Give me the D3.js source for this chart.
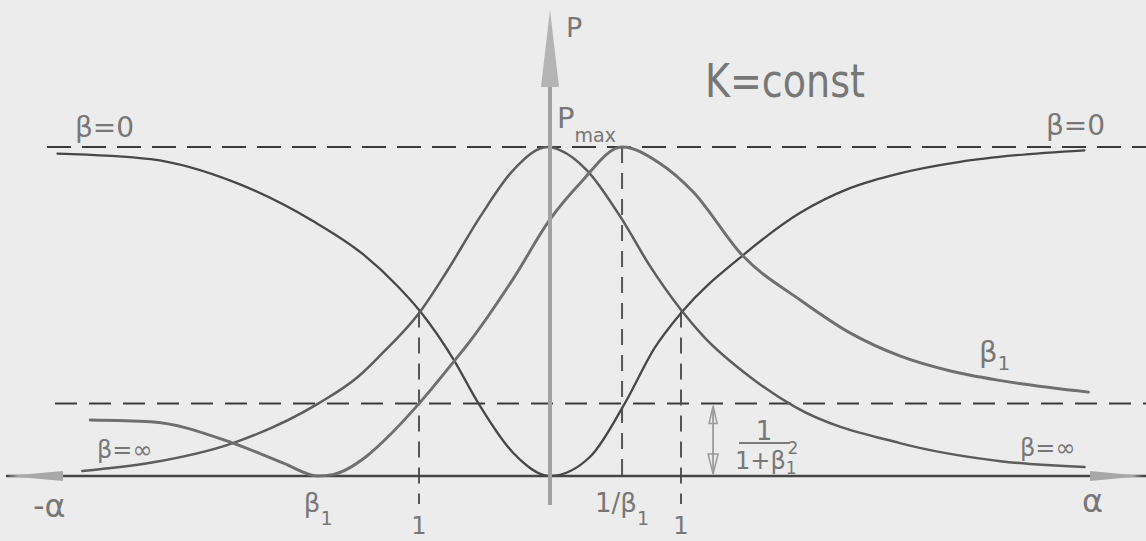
<!DOCTYPE html>
<html>
<head>
<meta charset="utf-8">
<script src="https://cdn.jsdelivr.net/npm/d3@7"></script>
<style>
  html, body { margin: 0; padding: 0; background: #ececec; }
  svg { display: block; }
  text { font-family: "DejaVu Sans", sans-serif; fill: #777; }
</style>
</head>
<body>
<svg id="chart" width="1146" height="541"></svg>
<script>
// Normalised power P/Pmax versus detuning α, for three values of β (K = const)
const betaZero = [
  [-3.76, 0.98], [-3.05, 0.963], [-2.39, 0.89], [-1.81, 0.775], [-1.43, 0.675],
  [-1.17, 0.58], [-0.99, 0.50], [-0.73, 0.35], [-0.56, 0.23], [-0.28, 0.07],
  [0.0, 0.0], [0.31, 0.06], [0.57, 0.22], [0.80, 0.39], [1.01, 0.50],
  [1.47, 0.67], [1.91, 0.80], [2.29, 0.875], [2.67, 0.92], [3.13, 0.955],
  [3.56, 0.975], [4.08, 0.99]
];
const betaInf = [
  [-3.57, 0.015], [-3.05, 0.04], [-2.42, 0.10], [-1.77, 0.22], [-1.47, 0.30],
  [-1.30, 0.365], [-0.99, 0.50], [-0.79, 0.62], [-0.53, 0.79], [-0.28, 0.93],
  [-0.02, 1.0], [0.08, 0.99], [0.28, 0.93], [0.55, 0.78], [0.76, 0.64],
  [1.01, 0.50], [1.17, 0.425], [1.53, 0.30], [1.87, 0.21], [2.67, 0.10],
  [3.44, 0.045], [4.08, 0.027]
];
const betaOne = [
  [-3.51, 0.17], [-3.05, 0.165], [-2.42, 0.10], [-2.04, 0.04], [-1.77, 0.0],
  [-1.66, 0.004], [-1.40, 0.06], [-1.26, 0.11], [-1.00, 0.22], [-0.73, 0.35],
  [-0.61, 0.41], [-0.28, 0.60], [0.0, 0.78], [0.23, 0.89], [0.55, 1.0],
  [0.84, 0.95], [1.09, 0.865], [1.47, 0.67], [1.91, 0.535], [2.29, 0.435],
  [2.67, 0.365], [3.05, 0.32], [3.44, 0.29], [4.11, 0.255]
];

// reference levels: Pmax and 1/(1+β1²)
const levelValues = [1.0, 0.22];
// vertical guides: α position and the P value they rise to
const guideAlpha = [-1.0, 0.55, 1.0];
const guideTop   = [0.5, 1.0, 0.5];
// α-axis tick labels
const tickAlpha  = [-1.77, -1.0, 0.55, 1.0];
const tickLabels = [["β", "1"], ["1", ""], ["1/β", "1"], ["1", ""]];

const svg = d3.select("#chart");
const W = 1146, H = 541;

const x = d3.scaleLinear().domain([0, 1]).range([550, 681]);
const y = d3.scaleLinear().domain([0, 1]).range([476, 147]);

const line = d3.line()
  .x(d => x(d[0])).y(d => y(d[1]))
  .curve(d3.curveMonotoneX);

// horizontal reference levels
svg.selectAll("line.level").data(levelValues).enter().append("line")
  .attr("class", "level")
  .attr("x1", (d, i) => i === 0 ? 47 : 55).attr("x2", W)
  .attr("y1", d => y(d)).attr("y2", d => y(d))
  .attr("stroke", "#3a3a3a").attr("stroke-width", 2)
  .attr("stroke-dasharray", (d, i) => i === 0 ? "24,11" : "22,12");

// vertical guides
svg.selectAll("line.guide").data(guideAlpha).enter().append("line")
  .attr("class", "guide")
  .attr("x1", d => x(d)).attr("x2", d => x(d))
  .attr("y1", (d, i) => y(guideTop[i]))
  .attr("y2", (d, i) => i === 1 ? y(0) : y(-0.085))
  .attr("stroke", "#555").attr("stroke-width", 2)
  .attr("stroke-dasharray", "16,10");

// α axis (both directions)
svg.append("line")
  .attr("x1", 6).attr("x2", W).attr("y1", y(0)).attr("y2", y(0))
  .attr("stroke", "#454545").attr("stroke-width", 2.5);
svg.append("path")
  .attr("d", `M7,${y(0)} L63,${y(0) - 5} L63,${y(0) + 5} Z`)
  .attr("fill", "#a8a8a8");
svg.append("path")
  .attr("d", `M1143,${y(0)} L1090,${y(0) - 5} L1090,${y(0) + 5} Z`)
  .attr("fill", "#a8a8a8");

// curves
const curves = [
  { data: betaZero, color: "#474747", width: 2.3 },
  { data: betaInf,  color: "#5c5c5c", width: 2.5 },
  { data: betaOne,  color: "#6f6f6f", width: 2.9 }
];
svg.selectAll("path.curve").data(curves).enter().append("path")
  .attr("class", "curve")
  .attr("d", d => line(d.data))
  .attr("fill", "none")
  .attr("stroke", d => d.color)
  .attr("stroke-width", d => d.width)
  .attr("stroke-linecap", "round");

// P axis with arrow
const px = x(0);
svg.append("line")
  .attr("x1", px).attr("x2", px).attr("y1", y(-0.088)).attr("y2", 87)
  .attr("stroke", "#a2a2a2").attr("stroke-width", 4);
svg.append("path")
  .attr("d", `M${px},10 L${px + 9},87 L${px - 9},87 Z`)
  .attr("fill", "#b4b4b4");

// double arrow marking 1/(1+β1²)
const ax = x(1.245);
svg.append("line")
  .attr("x1", ax).attr("x2", ax).attr("y1", y(levelValues[1]) + 4).attr("y2", y(0) - 2)
  .attr("stroke", "#9a9a9a").attr("stroke-width", 1.8);
svg.append("path")
  .attr("d", `M${ax},${y(levelValues[1]) + 2} L${ax - 4},${y(levelValues[1]) + 20} L${ax + 4},${y(levelValues[1]) + 20} Z`)
  .attr("fill", "none").attr("stroke", "#9a9a9a").attr("stroke-width", 1.5);
svg.append("path")
  .attr("d", `M${ax},${y(0) - 2} L${ax - 5},${y(0) - 22} L${ax + 5},${y(0) - 22} Z`)
  .attr("fill", "none").attr("stroke", "#9a9a9a").attr("stroke-width", 1.5);

// tick labels under the α axis
const tl = svg.selectAll("text.tick").data(tickAlpha).enter().append("text")
  .attr("class", "tick")
  .attr("x", d => x(d))
  .attr("y", (d, i) => tickLabels[i][1] ? 512 : 534)
  .attr("text-anchor", "middle")
  .attr("font-size", (d, i) => tickLabels[i][1] ? 26 : 24);
tl.append("tspan").text((d, i) => tickLabels[i][0]);
tl.append("tspan").attr("dy", 13).attr("font-size", 19)
  .text((d, i) => tickLabels[i][1]);

// axis names
svg.append("text").attr("x", 566).attr("y", 37).attr("font-size", 27).text("P");
svg.append("text").attr("x", 33).attr("y", 517).attr("font-size", 32).text("-α");
svg.append("text").attr("x", 1082).attr("y", 512).attr("font-size", 32).text("α");

// Pmax
const pm = svg.append("text").attr("x", 557).attr("y", 128).attr("font-size", 29);
pm.append("tspan").text("P");
pm.append("tspan").attr("dy", 14).attr("font-size", 19).text("max");

// K = const
svg.append("text").attr("x", 705).attr("y", 97).attr("font-size", 46)
  .attr("textLength", 160).attr("lengthAdjust", "spacingAndGlyphs")
  .attr("fill", "#6a6a6a").text("K=const");

// curve labels
svg.append("text").attr("x", 75).attr("y", 137).attr("font-size", 28).text("β=0");
svg.append("text").attr("x", 1046).attr("y", 135).attr("font-size", 28).text("β=0");
svg.append("text").attr("x", 97).attr("y", 458).attr("font-size", 24).text("β=∞");
svg.append("text").attr("x", 1020).attr("y", 456).attr("font-size", 24).text("β=∞");
const b1 = svg.append("text").attr("x", 979).attr("y", 362).attr("font-size", 29);
b1.append("tspan").text("β");
b1.append("tspan").attr("dy", 8).attr("font-size", 20).text("1");

// 1/(1+β1²)
svg.append("text").attr("x", 764).attr("y", 440).attr("font-size", 26)
  .attr("text-anchor", "middle").text("1");
svg.append("line").attr("x1", 739).attr("x2", 790).attr("y1", 443).attr("y2", 443)
  .attr("stroke", "#7a7a7a").attr("stroke-width", 2);
const den = svg.append("text").attr("x", 735).attr("y", 469).attr("font-size", 24);
den.append("tspan").text("1+β");
den.append("tspan").attr("dy", 5).attr("font-size", 17).text("1");
den.append("tspan").attr("dx", -9).attr("dy", -20).attr("font-size", 17).text("2");
</script>
</body>
</html>
